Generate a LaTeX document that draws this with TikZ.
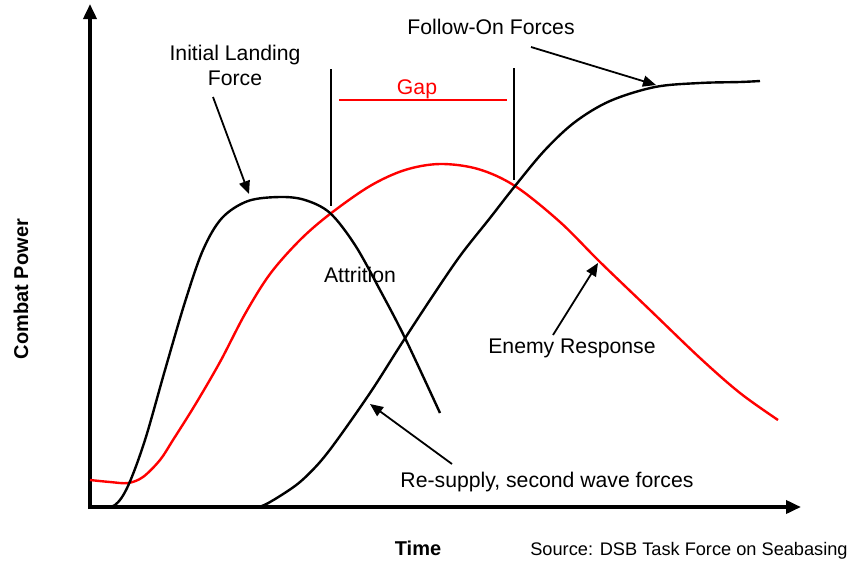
\documentclass[tikz,border=0pt]{standalone}
\usepackage{fontspec}
\setmainfont{Liberation Sans}
\usetikzlibrary{arrows.meta}
\begin{document}
\begin{tikzpicture}[x=1pt,y=-1pt,
  axis/.style={line width=3.6pt,-{Triangle[length=15pt,width=13pt]}},
  curve/.style={line width=2.4pt,line join=round,smooth,tension=0.55},
  pointer/.style={line width=1.8pt,-{Triangle[length=13pt,width=11pt]}},
  lbl/.style={font=\fontsize{21.2}{25}\selectfont,align=center,inner sep=0pt},
  bold/.style={font=\fontsize{20}{25}\selectfont\bfseries,inner sep=0pt}]
\useasboundingbox (0,0) rectangle (857,560);

% axes
\coordinate (origin) at (90,507);
\coordinate (ytip) at (90,4);
\coordinate (xtip) at (801,507);
\draw[axis] (88,507) -- (xtip);
\draw[axis] (90,509) -- (ytip);

% enemy response curve
\draw[curve,red] plot coordinates {(90,480) (110,482) (128,483) (143,477) (160,460)
  (173,440) (195,405) (220,362) (245,314) (270,274) (300,240) (330,214) (370,186)
  (405,170) (440,164) (478,169) (515,186) (560,222) (600,262) (650,310) (700,358)
  (740,393) (778,420)};

% initial landing force curve
\draw[curve] plot coordinates {(100,507) (115,505) (128,486) (145,440) (165,370)
  (185,302) (203,250) (222,218) (248,201) (280,197) (305,200) (330,213) (355,245)
  (380,290) (405,338) (440,413)};

% re-supply / follow-on forces curve
\draw[curve] plot coordinates {(250,507) (262,506) (280,496) (300,482) (320,462)
  (340,436) (372,390) (400,346) (430,300) (460,256) (490,218) (515,186) (545,150)
  (575,122) (610,101) (655,87) (700,83) (740,82) (760,81)};

% gap markers
\coordinate (gapL) at (331,69);
\coordinate (gapLb) at (331,206);
\coordinate (gapR) at (514,68);
\coordinate (gapRb) at (514,180);
\draw[line width=1.6pt] (gapL) -- (gapLb);
\draw[line width=1.6pt] (gapR) -- (gapRb);
\coordinate (gapA) at (339,100);
\coordinate (gapB) at (507,100);
\draw[red,line width=1.6pt] (gapA) -- (gapB);
\node[lbl,red,anchor=base] (gap) at (417,94) {Gap};

% labels
\node[lbl,anchor=base] (ilf1) at (235,60) {Initial Landing};
\node[lbl,anchor=base] (ilf2) at (235,85) {Force};
\node[lbl,anchor=base] (fof) at (491,34) {Follow-On Forces};
\node[lbl,anchor=base] (attr) at (360,282) {Attrition};
\node[lbl,anchor=base] (enemy) at (572,353) {Enemy Response};
\node[lbl,anchor=base] (resup) at (547,487) {Re-supply, second wave forces};
\node[bold,anchor=base] (time) at (418,555) {Time};
\node[font=\fontsize{18.2}{22}\selectfont,inner sep=0pt,anchor=base] (src) at (689,555) {Source: DSB Task Force on Seabasing};
\node[bold,rotate=90,anchor=base] (cp) at (28,289) {Combat Power};

% pointers
\coordinate (ilfS) at (213,97);
\coordinate (ilfT) at (249,194);
\draw[pointer] (ilfS) -- (ilfT);
\coordinate (fofS) at (531,47);
\coordinate (fofT) at (656,85);
\draw[pointer] (fofS) -- (fofT);
\coordinate (enS) at (553,335);
\coordinate (enT) at (598,263);
\draw[pointer] (enS) -- (enT);
\coordinate (rsS) at (452,464);
\coordinate (rsT) at (370,404);
\draw[pointer] (rsS) -- (rsT);
\end{tikzpicture}
\end{document}
